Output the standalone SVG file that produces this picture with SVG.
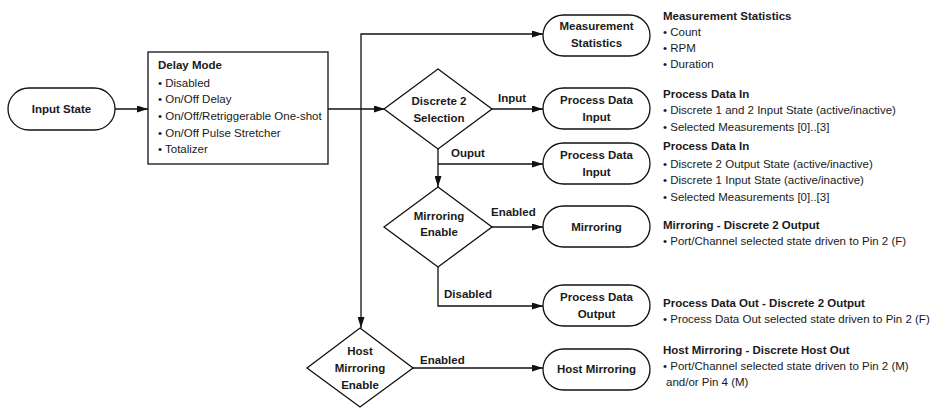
<svg xmlns="http://www.w3.org/2000/svg" width="931" height="408" viewBox="0 0 931 408">
<style>
text{font-family:"Liberation Sans",Arial,sans-serif;font-size:11.5px;fill:#1a1a1a}
.b{font-weight:bold}
.c{text-anchor:middle}
.sh{fill:#fff;stroke:#111;stroke-width:1.3}
.ln{fill:none;stroke:#111;stroke-width:1.3}
</style>
<defs>
<marker id="ah" markerUnits="userSpaceOnUse" markerWidth="11" markerHeight="7" refX="11" refY="3.5" orient="auto">
<path d="M0,0 L11,3.5 L0,7 z" fill="#111"/>
</marker>
</defs>
<g id="connectors">
<path class="ln" d="M115,109 H148" marker-end="url(#ah)"/>
<path class="ln" d="M328,109 H385" marker-end="url(#ah)"/>
<path class="ln" d="M361,109 V34 H543" marker-end="url(#ah)"/>
<path class="ln" d="M361,109 V328" marker-end="url(#ah)"/>
<path class="ln" d="M492,109 H543" marker-end="url(#ah)"/>
<path class="ln" d="M438,149 V187" marker-end="url(#ah)"/>
<path class="ln" d="M438,164 H543" marker-end="url(#ah)"/>
<path class="ln" d="M492,227 H543" marker-end="url(#ah)"/>
<path class="ln" d="M438,267 V306 H543" marker-end="url(#ah)"/>
<path class="ln" d="M413,368 H543" marker-end="url(#ah)"/>
<text class="b c" x="512" y="102">Input</text>
<text class="b" x="451" y="157">Ouput</text>
<text class="b" x="491" y="216">Enabled</text>
<text class="b" x="444" y="298">Disabled</text>
<text class="b" x="420" y="364">Enabled</text>
</g>
<g id="input-state">
<rect class="sh" x="8" y="88" width="107" height="42" rx="21"/>
<text class="b c" x="61.5" y="113">Input State</text>
</g>
<g id="delay-mode">
<rect class="sh" x="148" y="52" width="180" height="112"/>
<text class="b" x="158" y="69">Delay Mode</text>
<text x="158" y="87">• Disabled</text>
<text x="158" y="103">• On/Off Delay</text>
<text x="158" y="120">• On/Off/Retriggerable One-shot</text>
<text x="158" y="137">• On/Off Pulse Stretcher</text>
<text x="158" y="153">• Totalizer</text>
</g>
<g id="discrete2-selection">
<path class="sh" d="M438,69 L492,109 L438,149 L384,109 Z"/>
<text class="b c" x="439" y="105">Discrete 2</text>
<text class="b c" x="439" y="122">Selection</text>
</g>
<g id="mirroring-enable">
<path class="sh" d="M438,187 L492,227 L438,267 L384,227 Z"/>
<text class="b c" x="439" y="220">Mirroring</text>
<text class="b c" x="439" y="236">Enable</text>
</g>
<g id="host-mirroring-enable">
<path class="sh" d="M360,328 L413,368 L360,407 L307,368 Z"/>
<text class="b c" x="360" y="355">Host</text>
<text class="b c" x="360" y="372">Mirroring</text>
<text class="b c" x="360" y="389">Enable</text>
</g>
<g id="measurement-statistics">
<rect class="sh" x="543" y="15" width="107" height="41" rx="20.5"/>
<text class="b c" x="596.5" y="30">Measurement</text>
<text class="b c" x="596.5" y="47">Statistics</text>
</g>
<g id="process-data-input-1">
<rect class="sh" x="543" y="88" width="107" height="41" rx="20.5"/>
<text class="b c" x="596.5" y="104">Process Data</text>
<text class="b c" x="596.5" y="121">Input</text>
</g>
<g id="process-data-input-2">
<rect class="sh" x="543" y="143" width="107" height="41" rx="20.5"/>
<text class="b c" x="596.5" y="159">Process Data</text>
<text class="b c" x="596.5" y="176">Input</text>
</g>
<g id="mirroring">
<rect class="sh" x="543" y="206" width="107" height="41" rx="20.5"/>
<text class="b c" x="596.5" y="231">Mirroring</text>
</g>
<g id="process-data-output">
<rect class="sh" x="543" y="285" width="107" height="41" rx="20.5"/>
<text class="b c" x="596.5" y="301">Process Data</text>
<text class="b c" x="596.5" y="318">Output</text>
</g>
<g id="host-mirroring">
<rect class="sh" x="543" y="349" width="107" height="41" rx="20.5"/>
<text class="b c" x="596.5" y="373">Host Mirroring</text>
</g>
<g id="desc-measurement">
<text class="b" x="663" y="20">Measurement Statistics</text>
<text x="663" y="36">• Count</text>
<text x="663" y="52">• RPM</text>
<text x="663" y="68">• Duration</text>
</g>
<g id="desc-pdi-1">
<text class="b" x="663" y="98">Process Data In</text>
<text x="663" y="114">• Discrete 1 and 2 Input State (active/inactive)</text>
<text x="663" y="131">• Selected Measurements [0]..[3]</text>
</g>
<g id="desc-pdi-2">
<text class="b" x="663" y="150">Process Data In</text>
<text x="663" y="168">• Discrete 2 Output State (active/inactive)</text>
<text x="663" y="184">• Discrete 1 Input State (active/inactive)</text>
<text x="663" y="201">• Selected Measurements [0]..[3]</text>
</g>
<g id="desc-mirroring">
<text class="b" x="663" y="229">Mirroring - Discrete 2 Output</text>
<text x="663" y="245">• Port/Channel selected state driven to Pin 2 (F)</text>
</g>
<g id="desc-pdo">
<text class="b" x="663" y="307">Process Data Out - Discrete 2 Output</text>
<text x="663" y="323">• Process Data Out selected state driven to Pin 2 (F)</text>
</g>
<g id="desc-host">
<text class="b" x="663" y="354">Host Mirroring - Discrete Host Out</text>
<text x="663" y="370">• Port/Channel selected state driven to Pin 2 (M)</text>
<text x="666" y="386">and/or Pin 4 (M)</text>
</g>
</svg>
